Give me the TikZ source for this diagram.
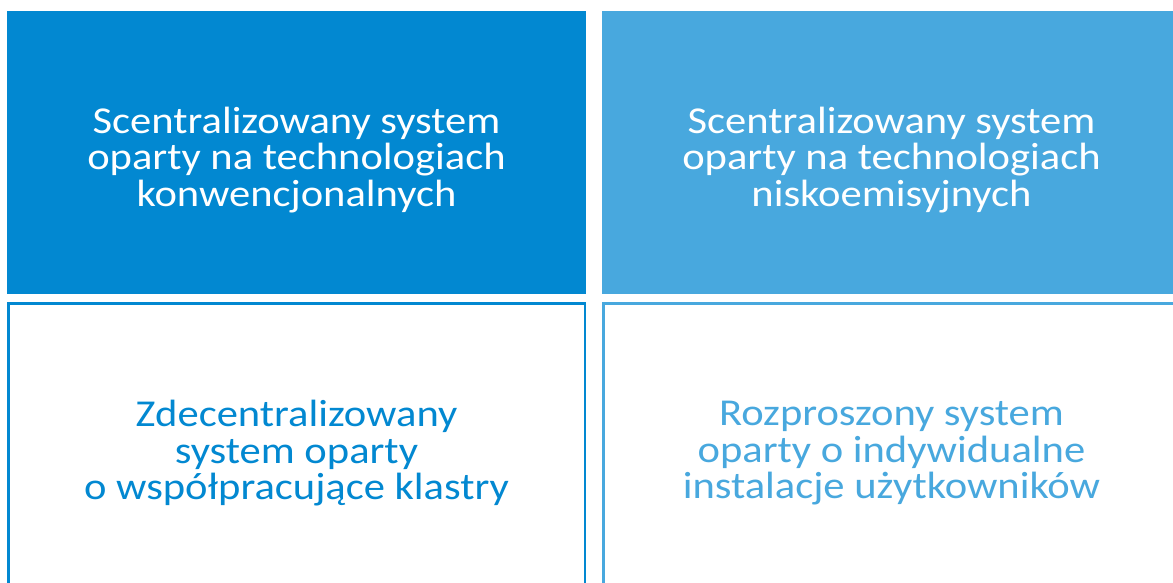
\documentclass[tikz,border=0pt]{standalone}
\usepackage{fontspec}
\setmainfont[FakeStretch=1.12]{Carlito}
\usepackage{tikz}

\definecolor{darkblue}{RGB}{2,136,209}
\definecolor{lightblue}{RGB}{72,168,222}

\tikzset{
	box/.style={rectangle, minimum width=579pt, minimum height=283pt, inner sep=0pt},
	openbox/.style={box, draw=#1, line width=2.5pt, fill=white,
		minimum width=576.5pt, minimum height=297.5pt},
	txt/.style={align=center, inner sep=0pt, text=#1, font=\fontsize{38}{36.5}\selectfont}
}

\begin{document}
\begin{tikzpicture}[x=1pt, y=-1pt]
			\clip (0,0) rectangle (1173,582);
			\fill[white] (0,0) rectangle (1173,582);
			\node (A) [box, fill=darkblue] at (296.5,152.5){};
			\node (B) [box, fill=lightblue] at (891.5,152.5){};
			\node (C) [openbox=darkblue] at (296.5,452){};
			\node (D) [openbox=lightblue] at (891.5,452){};
			
			\node (a) [txt=white] at (296.5,160){Scentralizowany system\\oparty na technologiach\\konwencjonalnych};
			\node (b) [txt=white] at (891.5,160){Scentralizowany system\\oparty na technologiach\\niskoemisyjnych};
			\node (c) [txt=darkblue] at (296.5,453.5){Zdecentralizowany\\system oparty\\o współpracujące klastry};
			\node (d) [txt=lightblue] at (891.5,453.5){Rozproszony system\\oparty o indywidualne\\instalacje użytkowników};
		\end{tikzpicture}
\end{document}
